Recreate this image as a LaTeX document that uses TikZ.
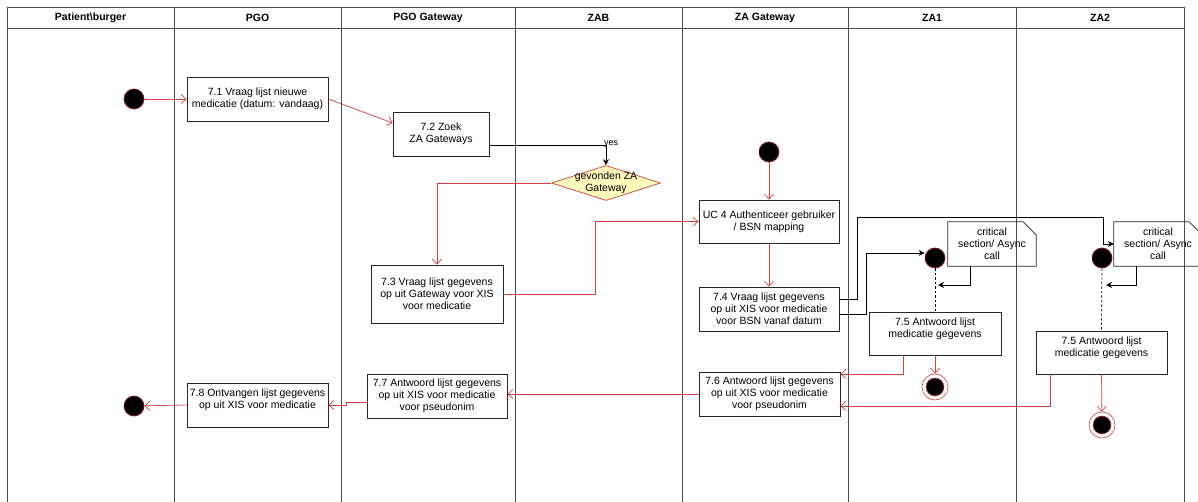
\documentclass[tikz,border=0pt]{standalone}
\usepackage{fontspec}
\setmainfont{Liberation Sans}
\usetikzlibrary{arrows.meta,shapes.geometric,calc}
\definecolor{myred}{RGB}{212,62,62}
\definecolor{darkred}{RGB}{140,20,20}
\definecolor{diafill}{RGB}{255,250,190}
\begin{document}
\begin{tikzpicture}[x=1pt,y=-1pt,
  lane/.style={draw=black!70,line width=0.9pt},
  box/.style={draw=black!85,line width=0.7pt,fill=white,align=center,inner sep=2pt,font=\fontsize{10.5}{12}\selectfont},
  startdot/.style={circle,fill=black,draw=darkred,line width=0.7pt,minimum size=20pt,inner sep=0pt},
  enddot/.style={circle,draw=myred,fill=white,line width=0.6pt,minimum size=26pt,inner sep=0pt,
    path picture={\fill[black,draw=myred,line width=0.5pt] (path picture bounding box.center) circle (9pt);}},
  flow/.style={draw=myred,line width=0.7pt,-{Straight Barb[length=5pt,width=9pt]}},
  ctrl/.style={draw=black,line width=0.7pt,-{Stealth[length=6pt,width=6pt]}},
  dashline/.style={draw=black,line width=0.7pt,dashed,dash pattern=on 2.5pt off 2pt},
  hdr/.style={font=\fontsize{10.5}{12}\selectfont\bfseries},
  notetext/.style={minimum width=88pt,minimum height=44pt,inner sep=0pt,align=center,font=\fontsize{10.5}{12}\selectfont},
  noteline/.style={draw=black!85,line width=0.7pt}]
\useasboundingbox (0,0) rectangle (1198,502);
\fill[white] (0,0) rectangle (1198,502);
% swimlanes
\draw[lane] (7,7) -- (1184,7);
\draw[lane] (7,28) -- (1184,28);
\foreach \x in {7,174,341,515,682,848,1016,1184}{\draw[lane] (\x,7) -- (\x,502);}
\node[hdr] (h1) at (90.5,18) {Patient\textbackslash burger};
\node[hdr] (h2) at (257.5,18) {PGO};
\node[hdr] (h3) at (428,18) {PGO Gateway};
\node[hdr] (h4) at (598.5,18) {ZAB};
\node[hdr] (h5) at (765,18) {ZA Gateway};
\node[hdr] (h6) at (932,18) {ZA1};
\node[hdr] (h7) at (1100,18) {ZA2};
% nodes
\node[startdot] (s1) at (134,99) {};
\node[box,minimum width=141pt,minimum height=44pt] (b71) at (257.5,99) {7.1 Vraag lijst nieuwe\\medicatie (datum: vandaag)};
\node[box,minimum width=96pt,minimum height=44pt] (b72) at (441,134) {7.2 Zoek\\ZA Gateways};
\node[diamond,draw=myred,fill=diafill,line width=0.7pt,minimum width=109pt,minimum height=35pt,inner sep=0pt] (dia) at (606,183) {};
\node[align=center,font=\fontsize{10.5}{12}\selectfont] (diat) at (dia.center) {gevonden ZA\\Gateway};
\node[box,minimum width=132pt,minimum height=58pt] (b73) at (437,294) {7.3 Vraag lijst gegevens\\op uit Gateway voor XIS\\voor medicatie};
\node[startdot] (s2) at (769,152) {};
\node[box,minimum width=140pt,minimum height=43pt] (uc4) at (769,221.5) {UC 4 Authenticeer gebruiker\\/ BSN mapping};
\node[box,minimum width=140pt,minimum height=44pt] (b74) at (769,309) {7.4 Vraag lijst gegevens\\op uit XIS voor medicatie\\voor BSN vanaf datum};
\node[startdot] (c1) at (935,258) {};
\node[startdot] (c2) at (1102,258) {};
\node[notetext] (n1) at (992,244) {critical\\section/ Async\\call};
\node[notetext] (n2) at (1158,244) {critical\\section/ Async\\call};
\draw[noteline] (n1.south west) -- (n1.south east) -- ([yshift=-13pt]n1.north east) -- ([xshift=-13pt]n1.north east) -- (n1.north west) -- cycle;
\draw[noteline] (n2.south west) -- (n2.south east) -- ([yshift=-13pt]n2.north east) -- ([xshift=-13pt]n2.north east) -- (n2.north west) -- cycle;
\node[box,minimum width=132pt,minimum height=43pt] (b75a) at (935,333.5) {7.5 Antwoord lijst\\medicatie gegevens\\\mbox{}};
\node[box,minimum width=131pt,minimum height=43pt] (b75b) at (1101.5,352.5) {7.5 Antwoord lijst\\medicatie gegevens\\\mbox{}};
\node[enddot] (e1) at (935,387) {};
\node[enddot] (e2) at (1102,425) {};
\node[box,minimum width=141pt,minimum height=44pt] (b76) at (769.5,394) {7.6 Antwoord lijst gegevens\\op uit XIS voor medicatie\\voor pseudonim};
\node[box,minimum width=140pt,minimum height=44pt] (b77) at (437,396) {7.7 Antwoord lijst gegevens\\op uit XIS voor medicatie\\voor pseudonim};
\node[box,minimum width=141pt,minimum height=44pt] (b78) at (257.5,405) {7.8 Ontvangen lijst gegevens\\op uit XIS voor medicatie\\\mbox{}};
\node[startdot] (e0) at (134,406) {};
\coordinate (k1) at (938,285);
\coordinate (k2) at (1106,285);
% connectors
\draw[flow] (s1) -- (b71.west);
\draw[flow] (b71.east) -- ([yshift=11pt]b72.west);
\draw[ctrl] ([yshift=-11pt]b72.east) -| (dia.north);
\node[font=\fontsize{9}{10}\selectfont,inner sep=0pt] (yes) at (611,144) {yes};
\draw[flow] (dia.west) -| (b73.north);
\draw[flow] (b73.east) -- ++(92,0) |- (uc4.west);
\draw[flow] (s2) -- (uc4.north);
\draw[flow] (uc4.south) -- (b74.north);
\draw[ctrl] ([yshift=10pt]b74.east) -| (857,217) -| (1103,244) -- (n2.west);
\draw[ctrl] ([yshift=-5pt]b74.east) -| (866,253) -- ([yshift=5pt]c1.west);
\draw[dashline] (c1) -- (b75a.north);
\draw[dashline] (c2) -- (b75b.north);
\draw[ctrl] ([xshift=-22pt]n1.south) |- (k1);
\draw[ctrl] ([xshift=-22pt]n2.south) |- (k2);
\draw[flow] (b75a.south) -- (e1);
\draw[flow] ([xshift=-32pt]b75a.south) |- ([yshift=20pt]b76.east);
\draw[flow] (b75b.south) -- (e2);
\draw[flow] ([xshift=-51.5pt]b75b.south) |- ([yshift=-12pt]b76.east);
\draw[flow] (b76.west) -- (b76.west -| b77.east);
\draw[flow] ([yshift=-6pt]b77.west) -- ++(-20,0) |- (b78.east);
\draw[flow] (b78.west) -- (e0);
\end{tikzpicture}
\end{document}
